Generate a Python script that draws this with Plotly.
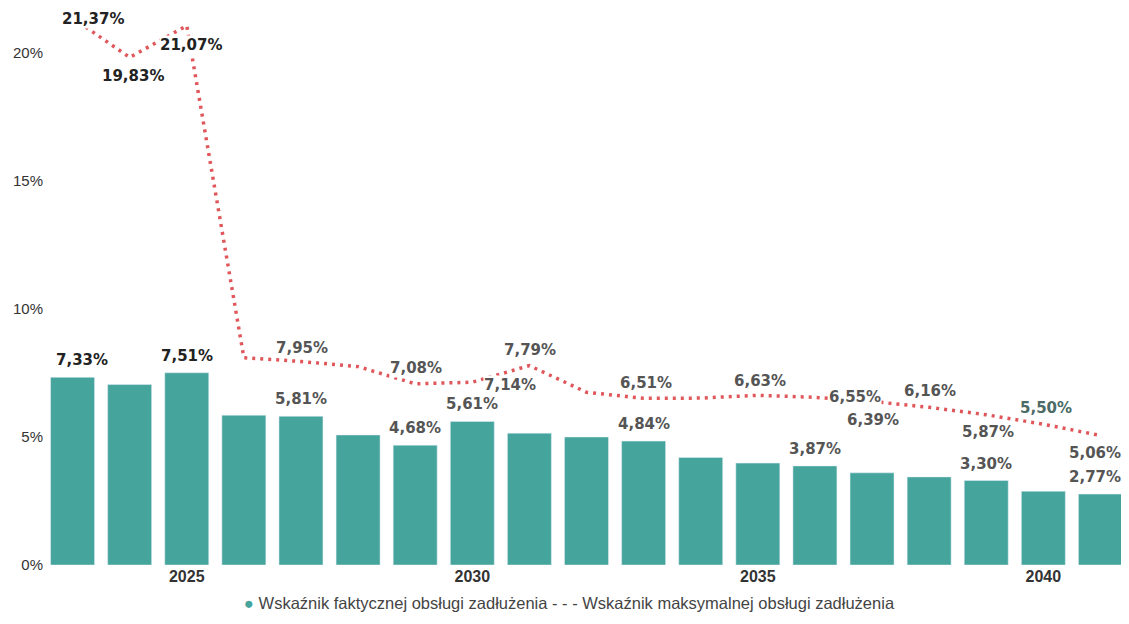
import plotly.graph_objects as go

years = list(range(2023, 2042))
actual = [7.33, 7.05, 7.51, 5.85, 5.81, 5.08, 4.68, 5.61, 5.15, 5.00, 4.84, 4.20, 3.98, 3.87, 3.60, 3.44, 3.30, 2.88, 2.77]
maximum = [21.37, 19.83, 21.07, 8.10, 7.95, 7.75, 7.08, 7.14, 7.79, 6.75, 6.51, 6.52, 6.63, 6.55, 6.39, 6.16, 5.87, 5.50, 5.06]

bar_label_years = [2023, 2025, 2027, 2029, 2030, 2033, 2036, 2039, 2041]
bar_label_dx = [9, 0, 0, 0, 0, 0, 0, 0, -5]
bar_label_color = ["#222222", "#222222"] + ["#555555"] * 7

line_label_years = [2023, 2024, 2025, 2027, 2029, 2030, 2031, 2033, 2035, 2036, 2037, 2038, 2039, 2040, 2041]
line_label_dx = [20, 3, 4, 1, 1, 38, 1, 2, 2, 40, 1, 1, 2, 3, -5]
line_label_dy = [-1, -19, -19, 14, 16, -3, 16, 15, 14, 0, -19, 16, -17, 16, -18]
line_label_color = ["#222222"] * 3 + ["#555555"] * 10 + ["#4a6b66", "#555555"]

BAR_COLOR = "#45a59c"
LINE_COLOR = "#e0575b"
FONT = "Liberation Sans"
LABEL_FONT = "DejaVu Sans"

def fmt(v):
    return f"{v:.2f}".replace(".", ",") + "%"

fig = go.Figure()
fig.add_trace(go.Bar(x=years, y=actual, marker_color=BAR_COLOR, name="Wskaźnik faktycznej obsługi zadłużenia",
                     hoverinfo="skip"))
fig.add_trace(go.Scatter(x=years, y=maximum, mode="lines",
                         line=dict(color=LINE_COLOR, width=3.5, dash="3px,5px"),
                         name="Wskaźnik maksymalnej obsługi zadłużenia", hoverinfo="skip", cliponaxis=False))

annotations = []
for yr, dx, col in zip(bar_label_years, bar_label_dx, bar_label_color):
    v = actual[years.index(yr)]
    annotations.append(dict(x=yr, y=v, xref="x", yref="y", text=fmt(v), showarrow=False,
                            yanchor="middle", yshift=17, xshift=dx,
                            font=dict(family=LABEL_FONT, size=15, color=col, weight="bold")))
for yr, dx, dy, col in zip(line_label_years, line_label_dx, line_label_dy, line_label_color):
    v = maximum[years.index(yr)]
    annotations.append(dict(x=yr, y=v, xref="x", yref="y", text=fmt(v), showarrow=False,
                            yanchor="middle", yshift=dy, xshift=dx, bgcolor="white", borderpad=0,
                            font=dict(family=LABEL_FONT, size=15, color=col, weight="bold")))

annotations.append(dict(
    x=0.484, y=-0.0682, xref="paper", yref="paper", showarrow=False, yanchor="middle", xanchor="center",
    text=f'<span style="color:{BAR_COLOR}">●</span> Wskaźnik faktycznej obsługi zadłużenia - - - Wskaźnik maksymalnej obsługi zadłużenia',
    font=dict(family=FONT, size=16.5, color="#444444")))

# The page body has an 8px margin; the figure is sized so that it ends at the window edges.
fig.update_layout(
    width=1121, height=608,
    margin=dict(l=36, r=0, t=0, b=51),
    paper_bgcolor="white", plot_bgcolor="white",
    bargap=0.23,
    showlegend=False,
    annotations=annotations,
    font=dict(family=FONT, size=15, color="#333333"),
    xaxis=dict(range=[2022.5, 2041.5], tickvals=[2025, 2030, 2035, 2040], ticktext=["2025", "2030", "2035", "2040"],
               showgrid=False, showline=False, zeroline=False, ticks="", automargin=False,
               tickfont=dict(family=FONT, size=16, color="#333333", weight="bold")),
    yaxis=dict(range=[0, 21.76], tickvals=[0, 5, 10, 15, 20], ticktext=["0%", "5%", "10%", "15%", "20%"],
               showgrid=False, showline=False, zeroline=False, ticks="", automargin=False,
               tickfont=dict(family=FONT, size=15, color="#333333")),
)

fig.write_html("out.html")
